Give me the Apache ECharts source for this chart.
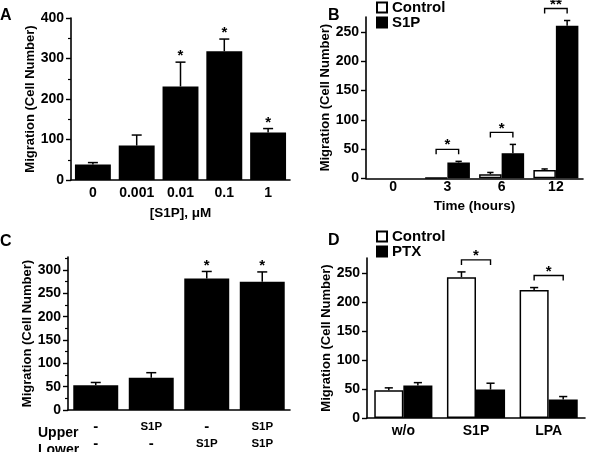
<!DOCTYPE html>
<html>
<head>
<meta charset="utf-8">
<script src="https://cdn.jsdelivr.net/npm/echarts@6/dist/echarts.min.js"></script>
<style>
  html, body { margin: 0; padding: 0; background: #fff; }
  #main { width: 589px; height: 452px; }
</style>
</head>
<body>
<div id="main"></div>
<script>
// panel A - dose response
const doseCats = ['0', '0.001', '0.01', '0.1', '1']
const doseMean = [38, 85, 231, 318, 117]
const doseErr = [5, 26, 60, 30, 10]
const doseSig = ['', '', '*', '*', '*']

// panel B - time course
const timeCats = ['0', '3', '6', '12']
const timeCtrl = [0, 1, 7, 14]
const timeCtrlErr = [0, 0, 3, 2]
const timeS1P = [0, 27, 43, 261]
const timeS1PErr = [0, 2, 15, 9]
const timeSig = ['', '*', '*', '**']

// panel C - chamber placement
const upperLabels = ['-', 'S1P', '-', 'S1P']
const lowerLabels = ['-', '-', 'S1P', 'S1P']
const chamberMean = [53, 69, 282, 275]
const chamberErr = [6, 11, 15, 21]
const chamberSig = ['', '', '*', '*']

// panel D - pertussis toxin
const ligandCats = ['w/o', 'S1P', 'LPA']
const ptxCtrl = [48, 243, 221]
const ptxCtrlErr = [4, 9, 4]
const ptxTreated = [56, 49, 32]
const ptxTreatedErr = [5, 11, 5]
const ptxSig = ['', '*', '*']

const FONT = '"Liberation Sans", Arial, Helvetica, sans-serif'
const BLACK = '#000'

// bar gap per panel (fraction of band)
const gapA = 0.18
const gapB = 0.17
const gapC = 0.19
const gapD = 0.20

function yAxisBase(grid, opts) {
  return Object.assign({
    type: 'value',
    gridIndex: grid,
    min: 0,
    name: 'Migration (Cell Number)',
    nameLocation: 'middle',
    nameGap: 34,
    nameTextStyle: { fontFamily: FONT, fontWeight: 'bold', fontSize: 13, color: BLACK },
    axisLine: { show: true, lineStyle: { color: BLACK, width: 1.6 } },
    axisTick: { show: true, length: 5, lineStyle: { color: BLACK, width: 1.4 } },
    axisLabel: { fontFamily: FONT, fontWeight: 'bold', fontSize: 14, color: BLACK, margin: 7 },
    splitLine: { show: false }
  }, opts)
}

function xAxisBase(grid, data, opts) {
  return Object.assign({
    type: 'category',
    gridIndex: grid,
    data: data,
    nameLocation: 'middle',
    nameTextStyle: { fontFamily: FONT, fontWeight: 'bold', fontSize: 13.5, color: BLACK },
    axisLine: { show: true, lineStyle: { color: BLACK, width: 1.6 } },
    axisTick: { show: false },
    axisLabel: { interval: 0, fontFamily: FONT, fontWeight: 'bold', fontSize: 14, color: BLACK, margin: 6 },
    splitLine: { show: false }
  }, opts)
}

// zero-height bars draw nothing in the figure
function barData(vals) {
  return vals.map(v => v === 0 ? { value: 0, itemStyle: { borderWidth: 0 } } : v)
}

// error bar, drawn upward only; offset is -1/0/+1 half bar widths
function errorSeries(axisIdx, means, errs, sig, gap, offset, nBars) {
  return {
    type: 'custom',
    xAxisIndex: axisIdx,
    yAxisIndex: axisIdx,
    silent: true,
    z: 5,
    data: means.map((m, i) => [i, m, errs[i]]),
    renderItem(params, api) {
      const i = api.value(0)
      const m = api.value(1)
      const e = api.value(2)
      const band = api.size([1, 0])[0]
      const bw = band * (1 - gap) / nBars
      const base = api.coord([i, m])
      const top = api.coord([i, m + e])
      const x = base[0] + offset * bw / 2
      const cap = Math.min(bw * 0.28, 10)
      const children = []
      if (e > 0) {
        children.push({
          type: 'line',
          shape: { x1: x, y1: base[1], x2: x, y2: top[1] },
          style: { stroke: BLACK, lineWidth: 1.5 }
        })
        children.push({
          type: 'line',
          shape: { x1: x - cap / 2, y1: top[1], x2: x + cap / 2, y2: top[1] },
          style: { stroke: BLACK, lineWidth: 1.5 }
        })
      }
      const s = sig ? sig[i] : ''
      if (s) {
        children.push({
          type: 'text',
          style: {
            x: x, y: top[1] - 6, text: s, textAlign: 'center', textVerticalAlign: 'middle',
            font: 'bold 15px ' + FONT, fill: BLACK
          }
        })
      }
      return { type: 'group', children: children }
    }
  }
}

// significance bracket between paired bars
function bracketSeries(axisIdx, a, aErr, b, bErr, sig, gap) {
  return {
    type: 'custom',
    xAxisIndex: axisIdx,
    yAxisIndex: axisIdx,
    silent: true,
    z: 5,
    data: sig.map((s, i) => [i, Math.max(a[i] + aErr[i], b[i] + bErr[i])]),
    renderItem(params, api) {
      const i = api.value(0)
      const s = sig[i]
      if (!s) return { type: 'group', children: [] }
      const band = api.size([1, 0])[0]
      const bw = band * (1 - gap) / 2
      const p = api.coord([i, api.value(1)])
      const y = p[1] - 12
      const x1 = p[0] - bw / 2
      const x2 = p[0] + bw / 2
      return {
        type: 'group',
        children: [
          { type: 'polyline', shape: { points: [[x1, y + 5], [x1, y], [x2, y], [x2, y + 5]] },
            style: { stroke: BLACK, lineWidth: 1.4, fill: null } },
          { type: 'text', style: { x: (x1 + x2) / 2, y: y - 4, text: s, textAlign: 'center',
            textVerticalAlign: 'middle', font: 'bold 15px ' + FONT, fill: BLACK } }
        ]
      }
    }
  }
}

const chart = echarts.init(document.getElementById('main'), null, { renderer: 'canvas' })

const sideLabel = (txt, x, y, size) => ({
  type: 'text', left: x, top: y,
  style: { text: txt, font: 'bold ' + size + 'px ' + FONT, fill: BLACK }
})

const tickVals = (max, step) => {
  const out = []
  for (let v = 0; v <= max; v += step) out.push(v)
  return out
}

const legendBase = {
  orient: 'vertical', itemGap: 0, padding: 0,
  itemWidth: 10, itemHeight: 10, icon: 'rect',
  textStyle: { fontFamily: FONT, fontWeight: 'bold', fontSize: 15, color: BLACK },
  selectedMode: false
}

chart.setOption({
  animation: false,
  backgroundColor: '#fff',
  grid: [
    { left: 71, top: 18, width: 219, height: 162 },
    { left: 366, top: 17, width: 217, height: 161.3 },
    { left: 68, top: 257, width: 222, height: 160.7 },
    { left: 367, top: 258, width: 218, height: 160 }
  ],
  legend: [
    Object.assign({}, legendBase, { left: 376, top: 0, data: ['Control', 'S1P'] }),
    Object.assign({}, legendBase, { left: 376, top: 229, data: ['Control ', 'PTX'] })
  ],
  xAxis: [
    xAxisBase(0, doseCats, { name: '[S1P], \u03bcM', nameGap: 26 }),
    xAxisBase(1, timeCats, { name: 'Time (hours)', nameGap: 21,
      axisLabel: { interval: 0, fontFamily: FONT, fontWeight: 'bold', fontSize: 14, color: BLACK, margin: 2 } }),
    xAxisBase(2, upperLabels.map((u, i) => u + '\n' + lowerLabels[i]), {
      axisLabel: {
        interval: 0,
        margin: 9,
        lineHeight: 16.5,
        formatter(v) {
          return v.split('\n').map(t => t === '-' ? '{d|-}' : '{s|' + t + '}').join('\n')
        },
        rich: {
          d: { fontFamily: FONT, fontWeight: 'bold', fontSize: 15, color: BLACK, lineHeight: 16.5 },
          s: { fontFamily: FONT, fontWeight: 'bold', fontSize: 11.5, color: BLACK, lineHeight: 16.5 }
        }
      }
    }),
    xAxisBase(3, ligandCats, {})
  ],
  yAxis: [
    yAxisBase(0, { max: 400, interval: 100, nameGap: 32,
      minorTick: { show: true, splitNumber: 2, length: 3, lineStyle: { color: BLACK, width: 1.2 } } }),
    yAxisBase(1, { max: 276, interval: 50, nameGap: 32,
      axisTick: { show: true, length: 5, customValues: tickVals(250, 50), lineStyle: { color: BLACK, width: 1.4 } },
      axisLabel: { fontFamily: FONT, fontWeight: 'bold', fontSize: 14, color: BLACK, margin: 7, customValues: tickVals(250, 50) } }),
    yAxisBase(2, { max: 328, interval: 50, nameGap: 29,
      axisTick: { show: true, length: 5, customValues: tickVals(300, 50), lineStyle: { color: BLACK, width: 1.4 } },
      axisLabel: { fontFamily: FONT, fontWeight: 'bold', fontSize: 14, color: BLACK, margin: 7, customValues: tickVals(300, 50) } }),
    yAxisBase(3, { max: 276, interval: 50, nameGap: 33,
      axisTick: { show: true, length: 5, customValues: tickVals(250, 50), lineStyle: { color: BLACK, width: 1.4 } },
      axisLabel: { fontFamily: FONT, fontWeight: 'bold', fontSize: 14, color: BLACK, margin: 7, customValues: tickVals(250, 50) } }),
    // minor ticks for panel C
    {
      type: 'value', gridIndex: 2, min: 0, max: 328, position: 'left', offset: 0,
      axisLine: { show: false },
      axisTick: { show: true, length: 3, customValues: [25, 75, 125, 175, 225, 275, 325], lineStyle: { color: BLACK, width: 1.2 } },
      axisLabel: { show: false },
      splitLine: { show: false }
    }
  ],
  series: [
    // A
    { name: 'doseA', type: 'bar', xAxisIndex: 0, yAxisIndex: 0, data: doseMean,
      barCategoryGap: (gapA * 100) + '%', itemStyle: { color: BLACK } },
    errorSeries(0, doseMean, doseErr, doseSig, gapA, 0, 1),
    // B
    { name: 'Control', type: 'bar', xAxisIndex: 1, yAxisIndex: 1, data: barData(timeCtrl),
      barGap: '0%', barCategoryGap: (gapB * 100) + '%',
      itemStyle: { color: '#fff', borderColor: BLACK, borderWidth: 1.5 } },
    { name: 'S1P', type: 'bar', xAxisIndex: 1, yAxisIndex: 1, data: barData(timeS1P),
      barGap: '0%', barCategoryGap: (gapB * 100) + '%',
      itemStyle: { color: BLACK, borderColor: BLACK, borderWidth: 1.5 } },
    errorSeries(1, timeCtrl, timeCtrlErr, null, gapB, -1, 2),
    errorSeries(1, timeS1P, timeS1PErr, null, gapB, 1, 2),
    bracketSeries(1, timeCtrl, timeCtrlErr, timeS1P, timeS1PErr, timeSig, gapB),
    // C
    { name: 'chamberC', type: 'bar', xAxisIndex: 2, yAxisIndex: 2, data: chamberMean,
      barCategoryGap: (gapC * 100) + '%', itemStyle: { color: BLACK } },
    errorSeries(2, chamberMean, chamberErr, chamberSig, gapC, 0, 1),
    // D
    { name: 'Control ', type: 'bar', xAxisIndex: 3, yAxisIndex: 3, data: ptxCtrl,
      barGap: '0%', barCategoryGap: (gapD * 100) + '%',
      itemStyle: { color: '#fff', borderColor: BLACK, borderWidth: 1.5 } },
    { name: 'PTX', type: 'bar', xAxisIndex: 3, yAxisIndex: 3, data: ptxTreated,
      barGap: '0%', barCategoryGap: (gapD * 100) + '%',
      itemStyle: { color: BLACK, borderColor: BLACK, borderWidth: 1.5 } },
    errorSeries(3, ptxCtrl, ptxCtrlErr, null, gapD, -1, 2),
    errorSeries(3, ptxTreated, ptxTreatedErr, null, gapD, 1, 2),
    bracketSeries(3, ptxCtrl, ptxCtrlErr, ptxTreated, ptxTreatedErr, ptxSig, gapD)
  ],
  graphic: [
    sideLabel('A', 0, 8, 16),
    sideLabel('B', 328, 8, 16),
    sideLabel('C', 0, 234, 16),
    sideLabel('D', 328, 233, 16),
    sideLabel('Upper', 38, 426, 14),
    sideLabel('Lower', 38, 443, 14)
  ]
})
</script>
</body>
</html>
